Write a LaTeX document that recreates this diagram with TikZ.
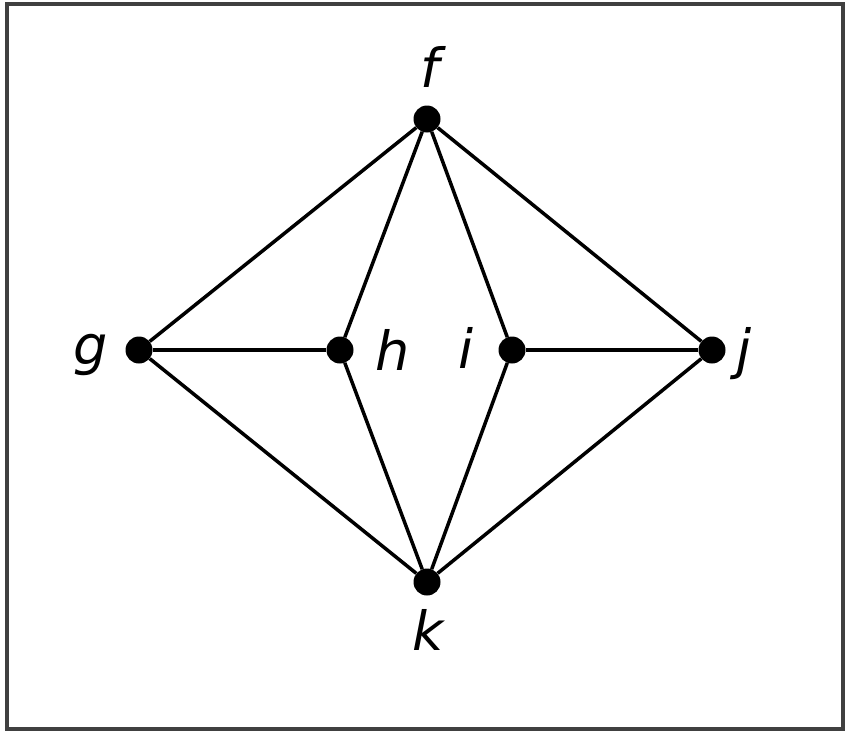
\documentclass[tikz,border=0pt]{standalone}
\usepackage{fontspec}
\setmainfont{DejaVu Sans}
\begin{document}
\begin{tikzpicture}[x=1pt,y=-1pt,
  vertex/.style={circle,fill=black,inner sep=0pt,minimum size=27pt},
  lbl/.style={inner sep=0pt,font=\fontsize{54}{60}\selectfont\itshape},
  edge/.style={line width=3.5pt,black}]
\useasboundingbox (0,0) rectangle (847,732);
\draw[line width=3.5pt,black!75] (7,4) rectangle (843,729);
\node[vertex] (f) at (427,119) {};
\node[vertex] (g) at (139,350) {};
\node[vertex] (h) at (340,350) {};
\node[vertex] (i) at (512,350) {};
\node[vertex] (j) at (712,350) {};
\node[vertex] (k) at (427,582) {};
\draw[edge] (f) -- (g);
\draw[edge] (f) -- (h);
\draw[edge] (f) -- (i);
\draw[edge] (f) -- (j);
\draw[edge] (g) -- (h);
\draw[edge] (i) -- (j);
\draw[edge] (g) -- (k);
\draw[edge] (h) -- (k);
\draw[edge] (i) -- (k);
\draw[edge] (j) -- (k);
\node[lbl] (lf) at (430,67) {f};
\node[lbl] (lg) at (91,355) {g};
\node[lbl] (lh) at (393,350) {h};
\node[lbl] (li) at (466,348) {i};
\node[lbl] (lj) at (744,354) {j};
\node[lbl] (lk) at (428,630) {k};
\end{tikzpicture}
\end{document}
